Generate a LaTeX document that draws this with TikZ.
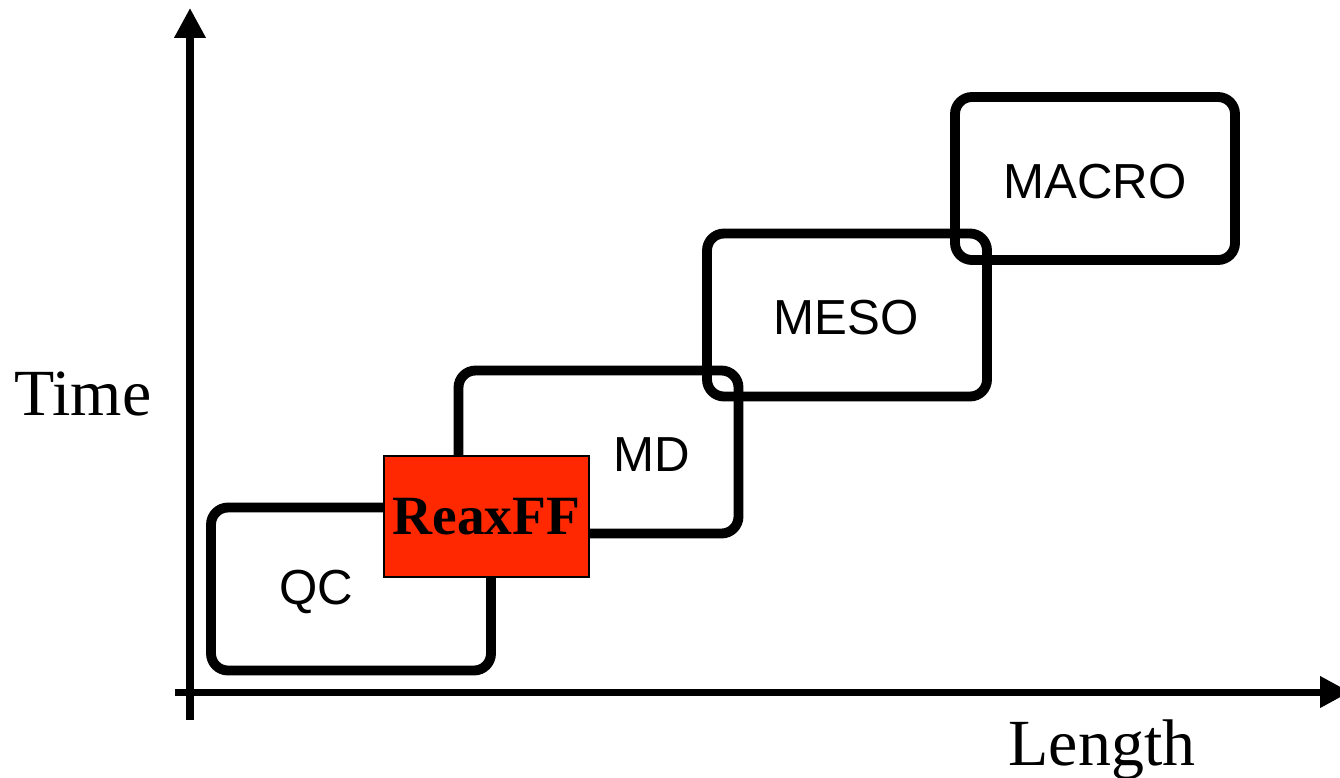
\documentclass[tikz,border=0pt]{standalone}
\usepackage{fontspec}
\setmainfont{Liberation Serif}
\newfontfamily\boxfont{Liberation Sans}
\usepackage{xcolor}
\usetikzlibrary{arrows.meta, positioning}
\definecolor{reaxR}{RGB}{255,40,0}
\tikzset{
  scalebox/.style={draw, line width=5.6pt, rounded corners=3.4mm,
    minimum width=56mm, minimum height=32.6mm, inner sep=0pt},
  scalelbl/.style={font=\boxfont\fontsize{28}{30}\selectfont, inner sep=0pt},
  axislbl/.style={font=\fontsize{37.5}{40}\selectfont, inner sep=0pt, anchor=base},
  axisline/.style={line width=4pt, -{Triangle[length=17pt, width=17pt]}}
}
\begin{document}
\begin{tikzpicture}[x=0.2mm, y=-0.2mm]
\useasboundingbox (0,0) rectangle (1340,777);
% ---- axes ----
\coordinate (o1) at (190,720);
\coordinate (ytip) at (190,8);
\coordinate (o2) at (175,692);
\coordinate (xtip) at (1350,692);
\draw[axisline] (o1) -- (ytip);
\draw[axisline] (o2) -- (xtip);
\node[axislbl] (tlbl) at (83,415) {Time};
\node[axislbl] (llbl) at (1102,765) {Length};
% ---- scale boxes (transparent, corners overlap) ----
\node[scalebox] (qc) at (351,589) {};
\node[scalebox] (md) at (598.5,452) {};
\node[scalebox] (meso) at (847,315) {};
\node[scalebox] (macro) at (1095,178.5) {};
\node[scalelbl] (qctxt) at (316,592) {QC};
\node[scalelbl] (mdtxt) at (652,455) {MD};
\node[scalelbl] (mesotxt) at (846,318) {MESO};
\node[scalelbl] (macrotxt) at (1095,182) {MACRO};
% ---- reactive force field bridges QC and MD ----
\node[draw, fill=reaxR, line width=0.6pt, minimum width=41mm, minimum height=24.2mm,
  inner sep=0pt, font=\bfseries\fontsize{31.5}{33}\selectfont] (reax) at (486.5,516.5) {ReaxFF};
\end{tikzpicture}
\end{document}
